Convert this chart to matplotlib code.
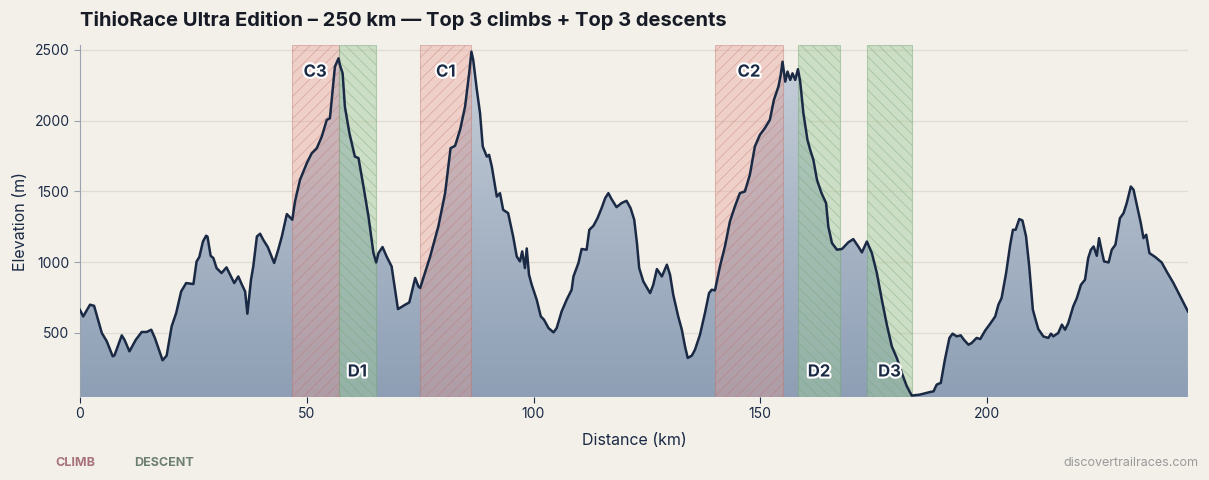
import numpy as np
import matplotlib
matplotlib.use("Agg")
import matplotlib.pyplot as plt
import matplotlib.patheffects as pe
from matplotlib.colors import LinearSegmentedColormap

plt.rcParams['font.family'] = ['Inter', 'DejaVu Sans']
plt.rcParams['hatch.linewidth'] = 0.6

# elevation profile (km, m)
dist_km = [0.0, 0.7, 2.2, 3.1, 4.8, 5.9, 7.2, 7.6, 9.2, 9.8, 10.9, 12.3, 13.6, 14.7, 15.7,
           16.5, 18.2, 19.1, 20.2, 21.2, 22.3, 23.4, 25.0, 25.7, 26.3, 27.1, 27.8, 28.1, 28.8,
           29.4, 30.1, 31.2, 32.3, 33.1, 34.0, 34.9, 35.7, 36.4, 36.9, 37.7, 38.2, 39.0, 39.7,
           40.4, 41.4, 42.8, 43.7, 44.5, 45.6, 46.8, 47.4, 48.5, 50.0, 51.1, 52.2, 53.3, 54.4,
           55.1, 55.7, 56.2, 57.0, 57.3, 57.9, 58.4, 59.4, 60.6, 61.4, 62.5, 63.6, 64.7, 65.3,
           65.8, 66.7, 67.6, 68.7, 70.1, 71.7, 72.6, 73.9, 74.6, 75.0, 77.2, 79.0, 80.5, 81.7,
           82.7, 83.8, 84.9, 85.8, 86.3, 86.7, 87.5, 88.2, 88.8, 89.7, 90.2, 90.8, 91.9, 92.6,
           93.3, 94.4, 95.2, 95.5, 96.3, 97.0, 97.5, 98.1, 98.5, 99.0, 99.6, 100.7, 101.6, 102.3,
           103.3, 104.4, 105.1, 106.2, 107.3, 108.4, 108.8, 109.9, 110.6, 111.7, 112.3, 113.2,
           114.1, 115.0, 115.8, 116.5, 117.2, 118.3, 119.4, 120.5, 121.4, 122.2, 122.8, 123.3,
           124.2, 125.7, 126.4, 127.2, 128.3, 129.4, 130.1, 130.8, 131.9, 132.7, 133.4, 134.0,
           134.9, 135.6, 136.7, 137.8, 138.7, 139.3, 140.0, 141.1, 142.2, 143.3, 144.4, 145.5,
           146.6, 147.7, 148.8, 149.9, 151.0, 152.1, 153.0, 154.0, 154.5, 154.9, 155.5, 156.0,
           156.6, 157.1, 157.7, 158.3, 158.8, 159.5, 160.4, 161.0, 161.7, 162.5, 163.5, 164.5,
           165.0, 165.8, 166.9, 168.0, 169.4, 170.5, 171.6, 172.4, 173.5, 174.6, 175.7, 176.8,
           177.9, 179.0, 180.1, 181.2, 182.3, 183.4, 185.2, 187.4, 188.2, 188.9, 189.8, 190.7,
           191.7, 192.4, 193.3, 194.2, 194.9, 195.9, 196.6, 197.7, 198.5, 199.6, 200.7, 201.8,
           202.5, 203.2, 204.2, 205.1, 205.7, 206.3, 207.1, 207.8, 208.6, 209.3, 210.1, 210.6,
           211.3, 212.4, 213.5, 214.1, 214.6, 215.7, 216.5, 217.2, 217.9, 219.0, 219.8, 220.7,
           221.6, 222.3, 222.9, 223.5, 224.2, 224.7, 225.3, 225.8, 226.8, 227.5, 228.3, 229.3,
           230.1, 230.8, 231.7, 232.3, 233.1, 233.9, 234.5, 235.1, 235.8, 237.1, 238.5, 239.6,
           241.1, 242.6, 244.3]
elev_m = [660, 615, 698, 690, 498, 439, 333, 340, 481, 450, 368, 450, 505, 505, 521,
          463, 305, 338, 545, 639, 792, 851, 844, 1004, 1035, 1145, 1186, 1180, 1044,
          1028, 957, 922, 962, 910, 851, 898, 839, 792, 634, 875, 969, 1181, 1200,
          1157, 1106, 993, 1087, 1181, 1339, 1299, 1428, 1581, 1699, 1770, 1805, 1887, 2005,
          2017, 2217, 2382, 2441, 2394, 2335, 2099, 1911, 1746, 1735, 1534, 1322, 1063, 997,
          1063, 1106, 1039, 969, 667, 698, 714, 887, 828, 816, 1039, 1251, 1487, 1805,
          1822, 1935, 2099, 2335, 2488, 2429, 2217, 2053, 1817, 1746, 1758, 1675, 1463, 1487,
          1369, 1346, 1228, 1181, 1039, 1004, 1075, 957, 1096, 910, 839, 733, 615, 592,
          533, 502, 533, 651, 733, 804, 898, 993, 1092, 1087, 1228, 1256,
          1310, 1381, 1452, 1487, 1445, 1388, 1417, 1433, 1381, 1299, 1134, 957,
          863, 780, 839, 950, 898, 981, 910, 769, 615, 521, 403, 321,
          338, 380, 486, 640, 780, 804, 799, 969, 1110, 1287, 1393, 1487,
          1499, 1617, 1817, 1899, 1947, 2005, 2147, 2241, 2323, 2417, 2276, 2347,
          2288, 2335, 2288, 2364, 2276, 2053, 1864, 1793, 1723, 1581, 1487, 1417,
          1251, 1134, 1087, 1092, 1139, 1162, 1110, 1068, 1145, 1063, 922, 733,
          557, 403, 321, 215, 121, 55, 62, 80, 85, 133, 145, 309,
          463, 493, 474, 481, 450, 415, 427, 463, 455, 516, 564, 615,
          698, 745, 922, 1122, 1228, 1228, 1304, 1294, 1181, 969, 663, 604,
          526, 474, 463, 493, 474, 498, 557, 521, 568, 686, 745, 839,
          875, 1028, 1087, 1110, 1044, 1169, 1075, 1004, 997, 1087, 1122, 1310,
          1346, 1417, 1534, 1511, 1393, 1275, 1169, 1193, 1063, 1035, 997, 933,
          851, 757, 650]

climb_labels = ["C1", "C2", "C3"]
climb_start = [75.0, 140.0, 46.7]
climb_end = [86.3, 155.0, 57.0]

descent_labels = ["D1", "D2", "D3"]
descent_start = [57.0, 158.3, 173.5]
descent_end = [65.3, 167.6, 183.5]

title = "TihioRace Ultra Edition \u2013 250 km \u2014 Top 3 climbs + Top 3 descents"

bg = "#f3f0ea"
navy = "#1b2a44"

x = np.array(dist_km)
y = np.array(elev_m)
y0, y1 = 45, 2535

fig = plt.figure(figsize=(12.09, 4.8), dpi=100, facecolor=bg)
ax = fig.add_axes([0.0662, 0.1729, 0.9164, 0.7333])
ax.set_facecolor(bg)

# gradient fill under the profile
poly = ax.fill_between(x, y, y0, color="none", lw=0)
cmap = LinearSegmentedColormap.from_list("elev", ["#8e9fb5", "#a9b6c6", "#c9d1db"])
grad = np.linspace(0, 1, 256).reshape(-1, 1)
img = ax.imshow(grad, cmap=cmap, aspect="auto", origin="lower",
                extent=[x[0], x[-1], y0, y1], zorder=1)
path = poly.get_paths()[0]
img.set_clip_path(path, transform=ax.transData)

for s, e in zip(climb_start, climb_end):
    ax.axvspan(s, e, facecolor=(0.91, 0.6, 0.56, 0.36), edgecolor=(0.75, 0.45, 0.42, 0.42),
               hatch="///", lw=0.8, zorder=2)
for s, e in zip(descent_start, descent_end):
    ax.axvspan(s, e, facecolor=(0.62, 0.79, 0.6, 0.45), edgecolor=(0.45, 0.65, 0.45, 0.45),
               hatch="\\\\\\", lw=0.8, zorder=2)

ax.plot(x, y, color=navy, lw=1.8, zorder=4)

stroke = [pe.withStroke(linewidth=3, foreground="white")]
for lab, s, e in zip(climb_labels, climb_start, climb_end):
    ax.text((s + e) / 2, 0.923, lab, transform=ax.get_xaxis_transform(), ha="center",
            va="center", fontsize=12, fontweight="bold", color=navy, path_effects=stroke, zorder=5)
for lab, s, e in zip(descent_labels, descent_start, descent_end):
    ax.text((s + e) / 2, 0.071, lab, transform=ax.get_xaxis_transform(), ha="center",
            va="center", fontsize=12, fontweight="bold", color=navy, path_effects=stroke, zorder=5)

ax.set_xlim(x[0], x[-1])
ax.set_ylim(y0, y1)
ax.set_xticks([0, 50, 100, 150, 200])
ax.set_yticks([500, 1000, 1500, 2000, 2500])
ax.grid(axis="y", color="#e0dcd2", lw=0.9, zorder=0)
ax.set_axisbelow(True)
for side in ["top", "right", "bottom"]:
    ax.spines[side].set_visible(False)
ax.spines["left"].set_color("#9aa3b0")
ax.tick_params(colors=navy, labelsize=10, length=4, width=0.8)
ax.tick_params(axis="y", length=4, color="#9aa3b0")
ax.set_xlabel("Distance (km)", fontsize=11.5, color=navy, labelpad=8)
ax.set_ylabel("Elevation (m)", fontsize=11.5, color=navy, labelpad=5)

fig.text(0.0662, 0.958, title, fontsize=14.5, fontweight="bold", color="#161b26",
         ha="left", va="center")
fig.text(0.0455, 0.035, "CLIMB", fontsize=9, fontweight="bold", color="#a8737b", va="center")
fig.text(0.111, 0.035, "DESCENT", fontsize=9, fontweight="bold", color="#6d7f70", va="center")
fig.text(0.991, 0.035, "discovertrailraces.com", fontsize=9, color="#9a9a9a",
         ha="right", va="center")

fig.savefig("out.png", dpi=100, facecolor=bg)
